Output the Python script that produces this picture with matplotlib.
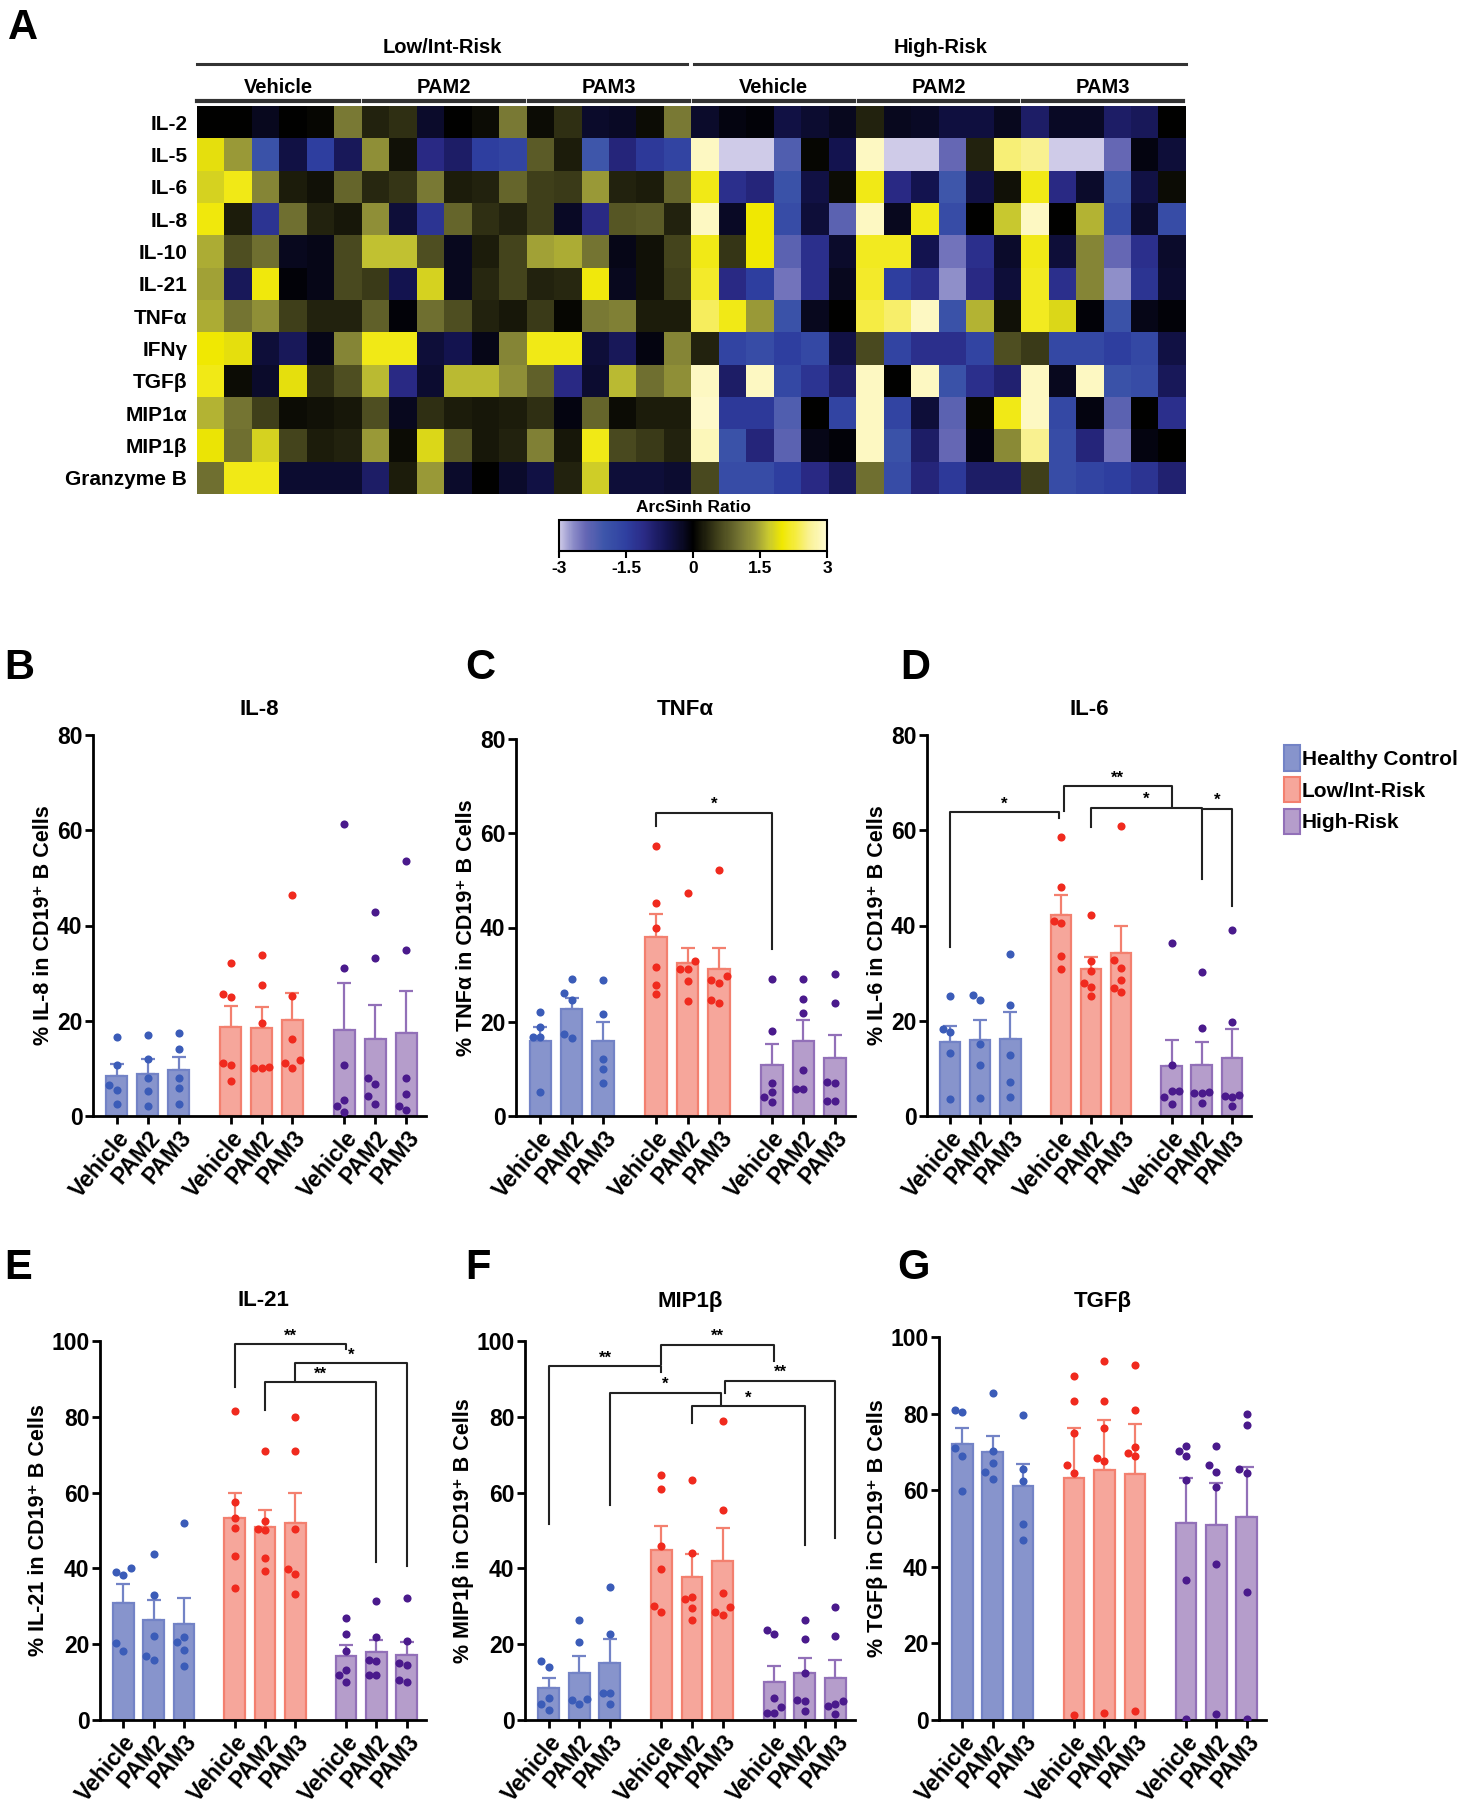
import numpy as np
import matplotlib
matplotlib.use("Agg")
import matplotlib.pyplot as plt
from matplotlib.colors import LinearSegmentedColormap
from matplotlib.patches import Patch

plt.rcParams['font.family'] = ['Liberation Sans', 'DejaVu Sans']
plt.rcParams['font.weight'] = 'bold'
plt.rcParams['axes.labelweight'] = 'bold'

W, H = 1458, 1800

# ---- heatmap data (arcsinh ratio) ----
cytokines = ["IL-2", "IL-5", "IL-6", "IL-8", "IL-10", "IL-21", "TNFα", "IFNγ",
             "TGFβ", "MIP1α", "MIP1β", "Granzyme B"]
risk_groups = ["Low/Int-Risk", "High-Risk"]
treatments = ["Vehicle", "PAM2", "PAM3"]

heat_low = [
    [0, 0, -0.2, 0, 0.05, 1.1, 0.3, 0.4, -0.3, 0, 0.1, 1.1, 0.1, 0.4, -0.3, -0.25, 0.1, 1.1],
    [1.9, 1.4, -1.9, -0.5, -1.5, -0.7, 1.3, 0.15, -1.1, -0.8, -1.5, -1.6, 0.8, 0.25, -2.0, -1.0, -1.4, -1.6],
    [1.8, 2.1, 1.2, 0.25, 0.15, 0.9, 0.35, 0.45, 1.1, 0.25, 0.3, 0.9, 0.55, 0.5, 1.4, 0.3, 0.25, 0.9],
    [2.05, 0.25, -1.3, 1.0, 0.3, 0.2, 1.3, -0.4, -1.3, 0.9, 0.4, 0.3, 0.55, -0.25, -1.1, 0.75, 0.8, 0.3],
    [1.5, 0.7, 1.0, -0.2, -0.15, 0.65, 1.65, 1.65, 0.7, -0.2, 0.25, 0.6, 1.45, 1.5, 1.05, -0.15, 0.15, 0.6],
    [1.45, -0.7, 2.05, -0.05, -0.15, 0.65, 0.5, -0.6, 1.8, -0.2, 0.35, 0.6, 0.3, 0.35, 2.05, -0.2, 0.15, 0.55],
    [1.5, 1.05, 1.3, 0.55, 0.3, 0.3, 0.85, -0.05, 1.0, 0.7, 0.3, 0.2, 0.5, 0.05, 1.1, 1.15, 0.25, 0.25],
    [2.0, 1.9, -0.4, -0.7, -0.15, 1.2, 2.1, 2.1, -0.4, -0.6, -0.15, 1.2, 2.1, 2.1, -0.4, -0.7, -0.1, 1.2],
    [2.1, 0.1, -0.3, 1.9, 0.4, 0.7, 1.6, -1.1, -0.35, 1.6, 1.6, 1.3, 0.85, -1.1, -0.35, 1.6, 1.0, 1.3],
    [1.55, 1.05, 0.55, 0.1, 0.15, 0.2, 0.7, -0.2, 0.4, 0.25, 0.2, 0.25, 0.4, -0.1, 0.9, 0.1, 0.25, 0.25],
    [1.95, 1.0, 1.8, 0.6, 0.25, 0.3, 1.4, 0.1, 1.85, 0.75, 0.2, 0.3, 1.15, 0.2, 2.1, 0.65, 0.5, 0.3],
    [1.0, 2.1, 2.1, -0.35, -0.35, -0.35, -0.8, 0.25, 1.4, -0.3, 0, -0.3, -0.5, 0.3, 1.75, -0.4, -0.4, -0.35],
]
heat_high = [
    [-0.3, -0.1, -0.05, -0.5, -0.35, -0.2, 0.3, -0.2, -0.25, -0.45, -0.45, -0.2, -0.8, -0.25, -0.25, -0.8, -0.7, 0],
    [2.9, -3, -3, -2.2, 0.05, -0.6, 2.9, -3, -3, -2.4, 0.3, 2.5, 2.6, -3, -3, -2.4, -0.1, -0.4],
    [2.1, -1.2, -1.0, -1.9, -0.5, 0.1, 2.1, -1.1, -0.6, -2.0, -0.5, 0.15, 2.1, -1.1, -0.3, -2.0, -0.5, 0.1],
    [2.9, -0.25, 2.0, -1.8, -0.4, -2.3, 2.9, -0.2, 2.1, -1.8, 0, 1.7, 2.9, 0, 1.55, -1.8, -0.3, -1.8],
    [2.1, 0.45, 2.0, -2.3, -1.2, -0.3, 2.15, 2.15, -0.6, -2.5, -1.2, -0.3, 2.1, -0.4, 1.2, -2.4, -1.2, -0.3],
    [2.2, -1.1, -1.5, -2.5, -1.2, -0.2, 2.2, -1.5, -1.2, -2.7, -1.1, -0.4, 2.15, -1.2, 1.2, -2.7, -1.3, -0.35],
    [2.4, 2.1, 1.4, -1.9, -0.2, 0, 2.3, 2.45, 2.9, -1.9, 1.55, 0.15, 2.15, 1.85, -0.05, -1.9, -0.15, -0.05],
    [0.3, -1.6, -1.8, -1.5, -1.7, -0.5, 0.65, -1.6, -1.2, -1.2, -1.6, 0.7, 0.5, -1.7, -1.7, -1.5, -1.7, -0.5],
    [2.9, -0.8, 2.9, -1.7, -1.3, -0.8, 2.9, 0, 2.9, -1.9, -1.2, -0.9, 2.9, -0.2, 2.9, -1.9, -1.8, -0.7],
    [2.95, -1.4, -1.4, -2.2, 0, -1.6, 2.9, -1.6, -0.4, -2.3, 0.05, 2.1, 2.9, -1.7, -0.1, -2.3, 0, -1.2],
    [2.85, -1.9, -1.0, -2.3, -0.15, -0.05, 2.9, -1.9, -0.8, -2.4, -0.1, 1.25, 2.6, -1.8, -1.0, -2.5, -0.1, 0],
    [0.65, -1.8, -1.8, -1.5, -1.1, -0.7, 1.0, -1.8, -1.0, -1.4, -0.8, -0.8, 0.55, -1.8, -1.6, -1.5, -1.3, -0.9],
]

# ---- bar panel data ----
bar_labels = ["Vehicle", "PAM2", "PAM3"] * 3
legend_labels = ["Healthy Control", "Low/Int-Risk", "High-Risk"]

il8_mean = [8.4, 8.8, 9.6, 18.7, 18.4, 20.1, 18.1, 16.2, 17.4]
il8_sem = [2.5, 3.1, 2.7, 4.3, 4.4, 5.8, 9.9, 7.1, 8.9]
il8_pts = [[16.6, 10.7, 6.6, 5.4, 2.6], [17.0, 11.9, 8.0, 5.3, 2.0], [17.5, 14.1, 7.9, 5.8, 2.5],
           [32.1, 25.7, 24.9, 11.1, 10.7, 7.4], [33.9, 27.5, 19.5, 10.1, 10.2, 10.0],
           [46.5, 25.3, 16.2, 11.8, 10.1, 11.1],
           [61.3, 31.1, 10.7, 3.3, 2.0, 0.9], [42.9, 33.2, 8.0, 6.8, 4.1, 2.6],
           [53.6, 34.8, 8.0, 4.7, 2.2, 1.2]]

tnf_mean = [15.9, 22.8, 15.9, 38.0, 32.5, 31.2, 10.9, 16.0, 12.3]
tnf_sem = [2.9, 2.3, 4.1, 4.9, 3.2, 4.4, 4.3, 4.4, 4.9]
tnf_pts = [[22.0, 18.8, 16.8, 16.8, 5.1], [29.0, 26.1, 24.6, 17.3, 16.5], [28.8, 21.6, 12.2, 10.0, 6.9],
           [57.4, 45.3, 40.0, 31.7, 27.8, 25.8], [47.4, 32.9, 31.1, 31.2, 28.6, 24.3],
           [52.2, 29.7, 28.8, 28.3, 24.6, 24.0],
           [29.0, 18.0, 7.1, 5.1, 4.1, 2.9], [29.0, 24.9, 21.8, 9.7, 5.7, 5.7],
           [30.2, 23.9, 7.1, 7.2, 3.1, 3.1]]

il6_mean = [15.5, 15.9, 16.2, 42.2, 30.9, 34.2, 10.6, 10.8, 12.1]
il6_sem = [3.5, 4.2, 5.7, 4.1, 2.4, 5.6, 5.4, 4.7, 6.1]
il6_pts = [[25.1, 17.6, 18.2, 13.2, 3.6], [25.5, 24.4, 15.1, 10.7, 3.7], [34.0, 23.4, 12.8, 7.1, 3.9],
           [58.6, 48.0, 40.6, 40.9, 33.7, 30.8], [42.1, 32.6, 30.5, 27.9, 27.0, 25.1],
           [60.9, 32.8, 31.1, 28.5, 26.9, 26.0],
           [36.4, 10.7, 5.2, 5.3, 3.9, 2.6], [30.2, 18.4, 5.0, 4.8, 4.8, 2.8],
           [39.0, 19.7, 4.4, 4.0, 4.1, 2.2]]

il21_mean = [31.0, 26.3, 25.3, 53.3, 50.8, 52.1, 17.0, 17.9, 17.2]
il21_sem = [5.0, 5.4, 7.0, 6.7, 4.7, 7.9, 2.9, 3.3, 3.3]
il21_pts = [[40.1, 38.2, 39.0, 20.3, 18.1], [43.9, 33.1, 22.2, 16.9, 15.8], [52.1, 21.9, 20.7, 18.6, 14.3],
            [81.5, 57.4, 53.2, 50.7, 43.4, 34.9], [71.0, 52.5, 50.1, 50.3, 42.8, 39.4],
            [80.0, 70.9, 50.4, 39.9, 38.5, 33.3],
            [26.9, 22.7, 18.1, 13.2, 11.8, 10.1], [31.5, 22.0, 15.6, 15.7, 11.8, 11.8],
            [32.3, 20.9, 14.5, 15.0, 10.1, 10.6]]

mip_mean = [8.4, 12.5, 15.1, 44.9, 37.8, 42.0, 9.9, 12.3, 11.0]
mip_sem = [2.7, 4.5, 6.2, 6.2, 6.0, 8.7, 4.3, 4.0, 4.9]
mip_pts = [[15.6, 14.1, 5.9, 4.1, 2.7], [26.3, 20.7, 5.6, 5.4, 4.2], [35.2, 22.8, 7.0, 7.0, 4.2],
           [64.6, 60.9, 45.9, 39.8, 30.1, 28.4], [63.2, 44.1, 31.8, 32.5, 29.6, 26.5],
           [78.8, 55.3, 33.4, 29.7, 27.6, 28.5],
           [23.7, 22.6, 5.9, 3.5, 1.9, 1.9], [26.4, 21.5, 12.5, 5.3, 5.1, 2.3],
           [29.9, 22.2, 5.0, 4.2, 3.8, 1.6]]

tgf_mean = [72.0, 70.1, 61.2, 63.3, 65.2, 64.1, 51.5, 51.0, 53.1]
tgf_sem = [4.2, 4.1, 5.6, 13.0, 13.2, 13.1, 11.7, 10.9, 12.9]
tgf_pts = [[81.0, 80.5, 71.1, 68.9, 59.7], [85.5, 70.3, 67.0, 64.8, 62.9], [79.6, 65.5, 62.5, 51.2, 46.9],
           [89.8, 83.2, 75.0, 66.6, 64.5, 1.4], [93.8, 83.4, 76.2, 68.4, 67.6, 1.9],
           [92.8, 80.9, 71.2, 69.6, 68.8, 2.4],
           [70.2, 71.5, 68.9, 62.6, 36.6, 0.3], [71.5, 66.6, 64.8, 60.9, 40.8, 1.6],
           [79.8, 76.9, 64.5, 65.5, 33.3, 0.3]]

# brackets: (bar a, bar b, top, left leg end, right leg end, label, shift a, shift b)
tnf_sig = [(3, 6, 64.4, 61.5, 35.5, "*", 0, 0)]
il6_sig = [(0, 3, 63.8, 35.4, 62.5, "*", 0, -0.06),
           (3, 6, 69.2, 64.1, 64.8, "**", 0.09, 0),
           (4, 7, 64.7, 60.7, 49.7, "*", 0, 0),
           (7, 8, 64.5, 64.5, 44.1, "*", 0, 0)]
il21_sig = [(3, 6, 99.1, 87.9, 97.9, "**", 0, 0),
            (5, 8, 94.1, 89.8, 40.6, "*", 0, 0),
            (4, 7, 89.1, 81.7, 41.8, "**", 0, 0)]
mip_sig = [(0, 3, 93.3, 51.7, 91.8, "**", 0, 0),
           (3, 6, 99.0, 93.9, 94.8, "**", 0, 0),
           (2, 5, 86.3, 56.7, 83.3, "*", 0, -0.04),
           (5, 8, 89.5, 86.2, 48.1, "**", 0.09, 0),
           (4, 7, 82.8, 78.3, 46.2, "*", 0, 0)]

FILL = ["#8794cc", "#f6a69b", "#b59dcb"]
EDGE = ["#7383c6", "#f3806f", "#9270b8"]
DOT = ["#3b5cb8", "#f02a1e", "#4a1a8c"]
XPOS = [0, 1, 2, 3.68, 4.68, 5.68, 7.36, 8.36, 9.36]

fig = plt.figure(figsize=(W / 100, H / 100), dpi=100)


def px_axes(l, t, r, b):
    return fig.add_axes([l / W, 1 - b / H, (r - l) / W, (b - t) / H])


# ---- heatmap ----
cmap = LinearSegmentedColormap.from_list("arcsinh", [
    (0.0, "#cfcbe8"), (0.3 / 6, "#8c8cc8"), (0.6 / 6, "#6466b4"), (1.0 / 6, "#3d56aa"),
    (1.5 / 6, "#2f3fa0"), (1.9 / 6, "#2a2a85"), (2.4 / 6, "#141450"), (2.75 / 6, "#0a0a26"),
    (0.5, "#000000"), (3.5 / 6, "#3a3a18"), (4.1 / 6, "#7a7a35"), (4.4 / 6, "#9a9a38"),
    (4.7 / 6, "#c8c830"), (5.0 / 6, "#f0e800"), (5.3 / 6, "#f5ec40"), (5.6 / 6, "#f9f190"),
    (1.0, "#fffbd2")])

heat = np.hstack([np.array(heat_low), np.array(heat_high)])
axh = px_axes(197, 106, 1186, 494)
im = axh.imshow(heat, aspect="auto", cmap=cmap, vmin=-3, vmax=3, interpolation="nearest")
axh.set_yticks(range(len(cytokines)))
axh.set_yticklabels(cytokines, fontsize=15, fontweight="bold")
axh.tick_params(axis="y", length=0, pad=7)
axh.set_xticks([])
for s in axh.spines.values():
    s.set_visible(False)

tr = axh.get_xaxis_transform()
for gi, gname in enumerate(risk_groups):
    x0 = gi * 18 - 0.5 + (0.1 if gi else 0)
    x1 = gi * 18 + 17.5 - (0.15 if gi == 0 else 0)
    axh.plot([x0, x1], [1.108, 1.108], color="#333333", lw=2.2, transform=tr, clip_on=False)
    axh.text((x0 + x1) / 2, 1.15, gname, transform=tr, ha="center", va="center",
             fontsize=14.5, fontweight="bold")
    for ti, tname in enumerate(treatments):
        k = gi * 3 + ti
        s0 = k * 6 - 0.5 + (0.08 if k else 0)
        s1 = k * 6 + 5.5 - 0.1
        axh.plot([s0, s1], [1.013, 1.013], color="#333333", lw=3, transform=tr, clip_on=False)
        axh.text((s0 + s1) / 2, 1.047, tname, transform=tr, ha="center", va="center",
                 fontsize=14.5, fontweight="bold")

cax = px_axes(559, 520, 827, 551)
cb = fig.colorbar(im, cax=cax, orientation="horizontal", ticks=[-3, -1.5, 0, 1.5, 3])
cb.ax.set_xticklabels(["-3", "-1.5", "0", "1.5", "3"], fontsize=12.5, fontweight="bold")
cb.ax.tick_params(length=5, width=1.5, pad=2)
cb.outline.set_linewidth(1.5)
cax.set_title("ArcSinh Ratio", fontsize=12.5, fontweight="bold", pad=6)


# ---- bar panels ----
def swarm(vals, dy, dx=0.24):
    offs = [0.0] * len(vals)
    placed = []
    for i in np.argsort(vals):
        v = vals[i]
        for c in (0, -dx, dx, -2 * dx, 2 * dx):
            if all(abs(v - pv) >= dy or abs(c - po) >= dx * 0.9 for pv, po in placed):
                offs[i] = c
                placed.append((v, c))
                break
    return offs


def bar_panel(box, means, sems, pts, ymax, title, ylabel, sigs, title_y):
    ax = px_axes(*box)
    axh_px = box[3] - box[1]
    dy = 8.5 * ymax / axh_px
    for i, x in enumerate(XPOS):
        g = i // 3
        ax.bar(x, means[i], width=0.68, color=FILL[g], edgecolor=EDGE[g], linewidth=1.6, zorder=2)
        ax.errorbar(x, means[i], yerr=[[0], [sems[i]]], fmt="none", ecolor=EDGE[g],
                    elinewidth=1.6, capsize=5, capthick=1.6, zorder=1)
        offs = swarm(pts[i], dy)
        ax.scatter(np.array(offs) + x, pts[i], s=34, color=DOT[g], zorder=3, linewidths=0)
    for a, b, top, ya, yb, lab, da, db in sigs:
        xa, xb = XPOS[a] + da, XPOS[b] + db
        ax.plot([xa, xa, xb, xb], [ya, top, top, yb], color="#222222", lw=1.5,
                clip_on=False, zorder=4)
        ax.text((xa + xb) / 2, top + ymax * 0.022, lab, ha="center", va="center",
                fontsize=12, fontweight="bold")
    ax.set_xlim(-0.77, 10.0)
    ax.set_ylim(0, ymax)
    ax.set_yticks(np.arange(0, ymax + 1, 20))
    ax.set_xticks(XPOS)
    ax.set_xticklabels(bar_labels, rotation=50, ha="right", rotation_mode="anchor")
    ax.tick_params(axis="both", labelsize=16.5, width=2, length=6, pad=1.5)
    for lbl in ax.get_xticklabels() + ax.get_yticklabels():
        lbl.set_fontweight("bold")
    for s in ("top", "right"):
        ax.spines[s].set_visible(False)
    for s in ("left", "bottom"):
        ax.spines[s].set_linewidth(2)
    ax.set_ylabel(ylabel, fontsize=15.5, fontweight="bold", labelpad=2)
    fig.text((box[0] + box[2]) / 2 / W, 1 - title_y / H, title, ha="center", va="center",
             fontsize=16, fontweight="bold")
    return ax


bar_panel((93, 735, 426, 1116), il8_mean, il8_sem, il8_pts, 80, "IL-8",
          "% IL-8 in CD19⁺ B Cells", [], 709)
bar_panel((516, 739, 855, 1116), tnf_mean, tnf_sem, tnf_pts, 80, "TNFα",
          "% TNFα in CD19⁺ B Cells", tnf_sig, 709)
bar_panel((927, 735, 1251, 1116), il6_mean, il6_sem, il6_pts, 80, "IL-6",
          "% IL-6 in CD19⁺ B Cells", il6_sig, 709)
bar_panel((100, 1341, 426, 1720), il21_mean, il21_sem, il21_pts, 100, "IL-21",
          "% IL-21 in CD19⁺ B Cells", il21_sig, 1301)
bar_panel((525, 1341, 855, 1720), mip_mean, mip_sem, mip_pts, 100, "MIP1β",
          "% MIP1β in CD19⁺ B Cells", mip_sig, 1301)
bar_panel((939, 1337, 1266, 1720), tgf_mean, tgf_sem, tgf_pts, 100, "TGFβ",
          "% TGFβ in CD19⁺ B Cells", [], 1301)

handles = [Patch(facecolor=FILL[g], edgecolor=EDGE[g], linewidth=1.5) for g in range(3)]
fig.legend(handles, legend_labels, loc="upper left", bbox_to_anchor=(1276 / W, 1 - 737 / H),
           frameon=False, fontsize=15, handlelength=0.75, handleheight=1.5,
           handletextpad=0.1, labelspacing=0.3, borderaxespad=0)

for letter, (px, py) in zip("ABCDEFG", [(8, 8), (4, 648), (465, 648), (900, 648),
                                        (4, 1248), (465, 1248), (897, 1248)]):
    fig.text(px / W, 1 - py / H, letter, ha="left", va="top", fontsize=30, fontweight="bold")

fig.savefig("out.png", dpi=100)
